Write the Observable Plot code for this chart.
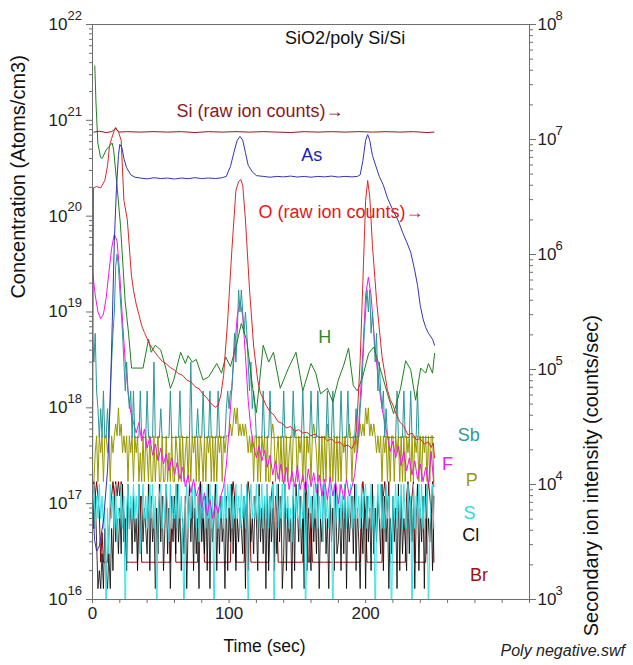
<!DOCTYPE html>
<html><head><meta charset="utf-8">
<script src="https://cdn.jsdelivr.net/npm/d3@7"></script>
<script src="https://cdn.jsdelivr.net/npm/@observablehq/plot@0.6"></script>
<style>html,body{margin:0;padding:0;background:#fff;overflow:hidden;}</style>
</head><body><div id="chart"></div>
<script>
// ---------- axis ticks ----------
const leftMajor = [1e16, 1e17, 1e18, 1e19, 1e20, 1e21, 1e22];          // Atoms/cm3
const rightMajor = [1e3, 1e4, 1e5, 1e6, 1e7, 1e8];                    // counts/sec
const xTicks = [0, 20, 40, 60, 80, 100, 120, 140, 160, 180, 200, 220, 240, 260, 280, 300, 320];
const xLabels = [0, 100, 200];

// ---------- Si (raw ion counts, counts/sec) ----------
const siTime = [1, 5, 10, 14, 16, 17, 18, 20, 25, 35, 45, 55, 65, 75, 85, 95, 105, 115, 125, 135, 145, 155, 165, 175, 185, 195, 205, 215, 225, 235, 245, 250];
const siCounts = [1.16e7, 1.18e7, 1.15e7, 1.17e7, 1.22e7, 1.27e7, 1.2e7, 1.16e7, 1.17e7, 1.16e7, 1.17e7, 1.16e7, 1.17e7, 1.15e7, 1.17e7, 1.16e7, 1.17e7, 1.16e7, 1.17e7, 1.16e7, 1.15e7, 1.17e7, 1.16e7, 1.17e7, 1.16e7, 1.17e7, 1.16e7, 1.17e7, 1.16e7, 1.17e7, 1.15e7, 1.16e7];

// ---------- O (raw ion counts, counts/sec) ----------
const oTime = [0, 0.7, 3, 6, 9, 11, 12.5, 14, 16, 17, 19, 21, 23, 25.5, 28.5, 30, 32, 34, 36, 38, 40, 42, 45, 48, 51, 54, 57, 60, 63, 66, 69, 72, 75, 78, 81, 84, 86, 88, 90, 92, 94, 96, 99, 102, 105, 107, 108.5, 110, 112, 115, 118, 121, 123, 125, 127, 130, 133, 136, 139, 142, 145, 148, 151, 154, 157, 160, 163, 166, 169, 172, 175, 178, 181, 184, 187, 190, 192, 193.5, 196, 198, 200, 201.5, 203, 205, 208, 212, 216, 218, 220, 222, 225, 228, 231, 234, 237, 240, 243, 246, 248, 249.5, 250.5];
const oCounts = [8.9e3, 3.8e6, 3.9e6, 3.8e6, 4.4e6, 5.9e6, 8.9e6, 1.02e7, 1.2e7, 1.25e7, 1.17e7, 9.8e6, 2.95e6, 2e6, 6.6e5, 4.9e5, 3.7e5, 3e5, 2.4e5, 2.1e5, 1.85e5, 1.65e5, 1.45e5, 1.3e5, 1.18e5, 1.12e5, 1.04e5, 9.9e4, 9.2e4, 8.9e4, 8.1e4, 7.8e4, 7.1e4, 6.8e4, 6.1e4, 5.6e4, 5.2e4, 4.9e4, 4.7e4, 4.9e4, 6e4, 8.9e4, 2.7e5, 1.07e6, 3.6e6, 4.3e6, 4.5e6, 4e6, 2e6, 4.9e5, 1.6e5, 8e4, 6.2e4, 5.6e4, 4.9e4, 4.3e4, 4e4, 3.5e4, 3.4e4, 3.1e4, 3.2e4, 2.9e4, 3e4, 2.8e4, 2.85e4, 2.65e4, 2.75e4, 2.55e4, 2.6e4, 2.4e4, 2.5e4, 2.3e4, 2.35e4, 2.15e4, 2.2e4, 2.05e4, 2.3e4, 3.2e4, 1.2e5, 5.9e5, 2.95e6, 4.4e6, 3.2e6, 1.2e6, 4e5, 1.3e5, 6.6e4, 5.5e4, 4.9e4, 4.2e4, 3.5e4, 3.2e4, 2.7e4, 2.8e4, 2.45e4, 2.5e4, 2.25e4, 2.35e4, 2.1e4, 2.3e4, 1.7e4];

// ---------- As (Atoms/cm3) ----------
const asTime = [0, 1.5, 3, 5, 8, 11, 13, 14.5, 16, 17.5, 19, 20, 21.5, 23, 25, 28, 31, 35, 40, 45, 50, 55, 60, 65, 70, 75, 80, 85, 90, 95, 98, 101, 104, 106, 108, 110, 112, 114, 117, 120, 125, 130, 135, 140, 145, 150, 155, 160, 165, 170, 175, 180, 185, 190, 194, 196, 198, 200, 201.5, 203, 205, 207, 210, 213, 216, 220, 224, 227, 230, 233, 236, 238, 240, 242, 244, 246, 249, 250.5];
const asConc = [1.1e17, 4.2e16, 3.2e16, 3.6e16, 6.6e16, 2.2e17, 1.2e18, 8e18, 5.6e19, 1.9e20, 4.3e20, 5.6e20, 5.2e20, 4e20, 3.2e20, 2.7e20, 2.55e20, 2.5e20, 2.45e20, 2.52e20, 2.47e20, 2.5e20, 2.44e20, 2.5e20, 2.46e20, 2.52e20, 2.47e20, 2.5e20, 2.47e20, 2.52e20, 2.6e20, 3.3e20, 4.9e20, 6.2e20, 6.8e20, 6.2e20, 4.6e20, 3.4e20, 2.9e20, 2.65e20, 2.6e20, 2.55e20, 2.6e20, 2.57e20, 2.62e20, 2.56e20, 2.6e20, 2.55e20, 2.6e20, 2.57e20, 2.62e20, 2.56e20, 2.6e20, 2.57e20, 2.6e20, 2.7e20, 3.8e20, 6.2e20, 7.1e20, 6.2e20, 4.3e20, 3.5e20, 2.6e20, 2.1e20, 1.55e20, 1.15e20, 8.9e19, 6.8e19, 5.4e19, 4.2e19, 2.7e19, 1.9e19, 1.17e19, 8.5e18, 6.9e18, 6e18, 5.2e18, 4.5e18];

// ---------- H (Atoms/cm3) ----------
const hTime = [1.7, 2.5, 3.9, 5.9, 7.1, 10, 14.4, 15.5, 17.8, 20.5, 23.9, 26.4, 28.6, 37, 41, 43, 46, 50, 54, 57, 59.5, 64.5, 68, 70, 73, 76, 81, 85, 91, 94.5, 97.5, 101, 105, 109, 113, 118, 120, 125, 129, 132.5, 137.5, 143.5, 149, 154, 160, 163.5, 167, 172, 176, 180, 184, 187.5, 191, 194, 197.8, 202.2, 205.9, 209.5, 212.5, 216, 220.5, 225.6, 229.3, 233, 236.6, 240.3, 244, 246, 249, 250.5];
const hConc = [3.7e21, 1.6e21, 5.8e20, 4.1e20, 4e20, 4.9e20, 5.8e20, 4.9e20, 2.2e20, 8e19, 1.3e19, 6e18, 2.6e18, 2.6e18, 5.2e18, 3.8e18, 4.5e18, 4e18, 2.5e18, 1.6e18, 1.95e18, 3.8e18, 2.9e18, 3.5e18, 3e18, 3.2e18, 1.95e18, 2.1e18, 2.9e18, 2.3e18, 3.4e18, 2.7e18, 4.3e18, 7.6e18, 5e18, 1.35e18, 8.9e17, 4.5e18, 3e18, 3.8e18, 1.6e18, 2.6e18, 3.8e18, 1.5e18, 2.9e18, 2.3e18, 1.4e18, 1.6e18, 1.15e18, 1.95e18, 2.8e18, 4.2e18, 1.7e18, 1.5e18, 2.1e18, 3.7e18, 4.3e18, 2.9e18, 2.1e18, 1.4e18, 8.7e17, 1.6e18, 3.1e18, 2.5e18, 1.2e18, 2.6e18, 2.3e18, 2.9e18, 2.3e18, 3.7e18];

// ---------- F (Atoms/cm3), one value every 2 s from 0 s ----------
const fConc = [2.7e19, 1.5e19, 1.0e19, 8.5e18, 9.5e18, 1.4e19, 2.6e19, 4.6e19, 6.5e19, 5.5e19, 2.4e19, 8e18, 3e18, 1.5e18, 9e17, 7e17, 5.5e17, 7e17, 4.5e17, 6e17, 3.8e17, 5e17, 3.2e17, 4.2e17, 2.8e17, 3.8e17, 2.6e17, 3.3e17, 2.2e17, 3e17, 2e17, 2.7e17, 1.8e17, 2.4e17, 1.5e17, 2e17, 1.3e17, 1.8e17, 1.2e17, 1.5e17, 9e16, 1.3e17, 7.5e16, 1.1e17, 7e16, 1e17, 8e16, 1.2e17, 1.5e17, 2.5e17, 6e17, 1.6e18, 4e18, 9e18, 1.3e19, 9e18, 3.5e18, 1.2e18, 6e17, 4e17, 3e17, 4e17, 2.8e17, 3.6e17, 2.4e17, 3.2e17, 2e17, 2.8e17, 1.8e17, 2.6e17, 1.6e17, 2.4e17, 1.4e17, 2.2e17, 1.5e17, 2.5e17, 1.4e17, 2e17, 1.3e17, 2.3e17, 1.5e17, 2.1e17, 1.3e17, 2e17, 1.2e17, 1.8e17, 1.1e17, 1.9e17, 1.2e17, 1.7e17, 1e17, 1.6e17, 1.1e17, 1.8e17, 1.2e17, 1.5e17, 2e17, 4e17, 1.2e18, 4e18, 1.5e19, 2.3e19, 1.5e19, 6e18, 3e18, 1.6e18, 1e18, 7e17, 5e17, 3.5e17, 4.5e17, 3e17, 4e17, 2.5e17, 3.5e17, 2.2e17, 3e17, 2e17, 2.8e17, 1.8e17, 2.6e17, 1.7e17, 2.4e17, 1.6e17, 3.5e17, 1.5e17];

// ---------- quantised noisy signals, one digit per second from 0 s (digit = level index) ----------
const pLevels = [1.7e17, 3.4e17, 5.1e17, 6.8e17, 1.0e18];
const pDigits = ["0012021202","2120212324","2312120212","0212010202","1020020120","0200201020","0210202012","0202120202","1020212020","2021202122","2323434232","3232121202","2020212020","0232012020","2020120232","0212020212","0232102020","2032020202","0202120232","0212123232","4342323212","1202120202","2021202020","2120202120","2021202022","0"].join("");

const sbLevels = [4.9e17, 9.8e17, 1.5e18, 3e18, 6e18, 1e19, 1.7e19, 3e19, 4e19];
const sbDigits = ["4342101020","0102345787","6543232120","2000020000","2000030000","1000000200","0000200000","0030000100","0200002000","0020000012","1223434656","5454323121","0000020000","2000000000","2000000200","0000200000","2000020000","0020002000","0020000200","0001001234","5656454342","3212010000","0002000020","0002000020","0000000000","0"].join("");

const brLevels = [2.45e16, 5e16, 8e16, 1.2e17, 1.7e17];
const brDigits = ["3434320100","0012343434","3432100000","0000230000","0000000000","0000000032","3000000000","0000000034","3200000000","0000000000","0034300000","0023430000","0000000000","2340320000","0000000000","0000034300","2000000000","0000000000","0000000000","0000000343","2000000000","0003432400","0000000000","3432340000","0000034324","0"].join("");

const lowLevels = [5e15, 1.3e16, 2e16, 3e16, 4e16, 5.5e16, 7e16, 9e16, 1.2e17, 1.6e17];
const sDigits = ["8958696857","0739685947","6958079586","9685937968","5796958068","9586974958","6959685079","5869695847","9685969580","6958685969","7958696859","6859079686","9586958695","8690695869","5968574968","6958690596","8596958694","9685960958","6958695869","5869685968","9586958069","6958596850","8695869596","5968095869","6958690589","5"].join("");
const clDigits = ["9584121315","2131528463","7394629573","8462938475","3928461739","4825937164","8394726381","5948273619","4738291746","9273846182","7493826475","3819274638","6294738192","8472639481","3927461829","7483619274","2847391648","9361847293","4728391746","8392741638","1847293748","6392847163","8471928364","2938471692","7481936472","8"].join("");

// ---------- build tables ----------
const countsToConc = c => 10 ** (22 - 1.2 * (8 - Math.log10(c)));   // right axis -> left axis
const pairs = (times, vals) => vals.slice(0, times.length).map((v, i) => ({t: times[i], v}));
const fromDigits = (s, levels) => Array.from(s, (c, i) => ({t: i, v: levels[+c]}));

const series = [
  {name: "Br", color: "#8b0000", w: 1, data: fromDigits(brDigits, brLevels)},
  {name: "P", color: "#999900", w: 1, data: fromDigits(pDigits, pLevels)},
  {name: "Cl", color: "#000000", w: 0.8, data: fromDigits(clDigits, lowLevels)},
  {name: "S", color: "#3adfe2", w: 1, data: fromDigits(sDigits, lowLevels)},
  {name: "F", color: "#ee16ee", w: 1, data: fConc.map((v, i) => ({t: i * 2, v}))},
  {name: "Sb", color: "#2a9696", w: 1, data: fromDigits(sbDigits, sbLevels)},
  {name: "H", color: "#1f7f1f", w: 1, data: pairs(hTime, hConc)},
  {name: "O", color: "#d42a2a", w: 1, data: pairs(oTime, oCounts).map(d => ({t: d.t, v: countsToConc(d.v)}))},
  {name: "As", color: "#3434b2", w: 1, data: pairs(asTime, asConc)},
  {name: "Si", color: "#8b1a1a", w: 1, data: pairs(siTime, siCounts).map(d => ({t: d.t, v: countsToConc(d.v)}))}
];

const annotations = [
  {text: "SiO2/poly Si/Si", t: 185, c: 7.2e21, color: "#111", anchor: "middle"},
  {text: "Si (raw ion counts)\u2192", t: 61.5, c: 1.25e21, color: "#8b1a1a", anchor: "start"},
  {text: "As", t: 160.5, c: 4.3e20, color: "#1c1cb8", anchor: "middle"},
  {text: "O (raw ion counts)\u2192", t: 121.6, c: 1.1e20, color: "#e01a1a", anchor: "start"},
  {text: "H", t: 170, c: 5.4e18, color: "#2a8a2a", anchor: "middle"},
  {text: "Sb", t: 275.5, c: 5.2e17, color: "#2a9a9a", anchor: "middle"},
  {text: "F", t: 260, c: 2.6e17, color: "#ee22ee", anchor: "middle"},
  {text: "P", t: 277.7, c: 1.75e17, color: "#9a9a10", anchor: "middle"},
  {text: "S", t: 276, c: 7.9e16, color: "#33d8e0", anchor: "middle"},
  {text: "Cl", t: 277, c: 4.7e16, color: "#111", anchor: "middle"},
  {text: "Br", t: 283, c: 1.8e16, color: "#a01010", anchor: "middle"}
];

const leftMinor = [];
for (let k = 16; k < 22; k++) for (let m = 2; m < 10; m++) leftMinor.push(m * 10 ** k);
const rightMinor = [];
for (let k = 3; k < 8; k++) for (let m = 2; m < 10; m++) rightMinor.push(m * 10 ** k);

const axisColor = "#6e6e6e";
const noText = () => "";

const chart = Plot.plot({
  width: 633, height: 665,
  marginLeft: 92, marginRight: 104, marginTop: 24, marginBottom: 66,
  x: {domain: [0, 320]},
  y: {type: "log", domain: [1e16, 1e22]},
  style: {fontFamily: "'Liberation Sans', Arial, sans-serif", background: "#fff", color: "#111"},
  marks: [
    ...series.map(s => Plot.line(s.data, {x: "t", y: "v", stroke: s.color, strokeWidth: s.w, clip: true})),
    Plot.frame({stroke: axisColor}),
    Plot.axisY({anchor: "left", ticks: leftMinor, tickSize: 3, tickFormat: noText, stroke: axisColor, label: null}),
    Plot.axisY({anchor: "left", ticks: leftMajor, tickSize: 6, tickFormat: noText, stroke: axisColor, label: null}),
    Plot.axisY({anchor: "right", ticks: rightMinor.map(countsToConc), tickSize: 3, tickFormat: noText, stroke: axisColor, label: null}),
    Plot.axisY({anchor: "right", ticks: rightMajor.map(countsToConc), tickSize: 6, tickFormat: noText, stroke: axisColor, label: null}),
    Plot.axisX({ticks: xTicks, tickSize: 4, tickFormat: noText, stroke: axisColor, label: null}),
    // left tick labels 10^n
    Plot.text(leftMajor, {y: d => d, text: () => "10", frameAnchor: "left", textAnchor: "end", dx: -25, fontSize: 17, fill: "#222"}),
    Plot.text(leftMajor, {y: d => d, text: d => String(Math.round(Math.log10(d))), frameAnchor: "left", textAnchor: "start", dx: -25, dy: -9, fontSize: 13, fill: "#222"}),
    // right tick labels 10^n
    Plot.text(rightMajor, {y: d => countsToConc(d), text: () => "10", frameAnchor: "right", textAnchor: "start", dx: 8, fontSize: 17, fill: "#222"}),
    Plot.text(rightMajor, {y: d => countsToConc(d), text: d => String(Math.round(Math.log10(d))), frameAnchor: "right", textAnchor: "start", dx: 26, dy: -9, fontSize: 13, fill: "#222"}),
    // x tick labels
    Plot.text(xLabels, {x: d => d, text: d => String(d), frameAnchor: "bottom", dy: 19, fontSize: 17, fill: "#222"}),
    // axis titles
    Plot.text(["Time (sec)"], {x: () => 126, text: d => d, frameAnchor: "bottom", dy: 52, fontSize: 17.5, fill: "#111"}),
    Plot.text(["Concentration (Atoms/cm3)"], {y: () => 1.38e19, text: d => d, frameAnchor: "left", dx: -74, rotate: -90, fontSize: 20, fill: "#111"}),
    Plot.text(["Secondary ion intensity (counts/sec)"], {y: () => 9.3e18, text: d => d, frameAnchor: "right", dx: 62, rotate: -90, fontSize: 20, fill: "#111"}),
    // in-plot annotations
    Plot.text(annotations.filter(a => a.anchor === "start"), {x: "t", y: "c", text: "text", fill: d => d.color, textAnchor: "start", fontSize: 18}),
    Plot.text(annotations.filter(a => a.anchor === "middle"), {x: "t", y: "c", text: "text", fill: d => d.color, textAnchor: "middle", fontSize: 18}),
    // caption
    Plot.text(["Poly negative.swf"], {text: d => d, frameAnchor: "bottom-right", textAnchor: "start", dx: -29, dy: 56, fontSize: 16, fontStyle: "italic", fill: "#222"})
  ]
});
document.getElementById("chart").append(chart);
</script>
</body></html>
